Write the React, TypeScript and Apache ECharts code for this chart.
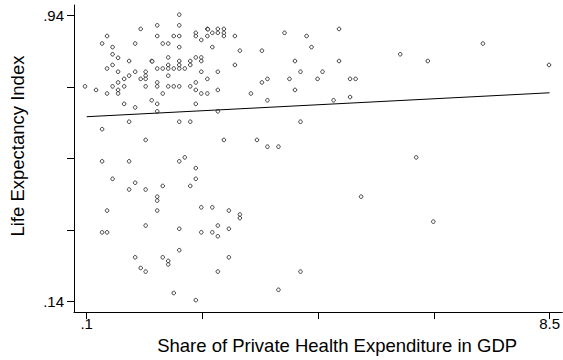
import React, { useEffect, useRef } from "react";
import * as echarts from "echarts";

// Share of private health expenditure in GDP (x) and life expectancy index (y)
const shareGDP: number[] = [
  1.78, 1.38, 1.78, 1.08, 2.29, 2.48, 2.59, 4.68, 2.08, 2.38,
  2.48, 2.59, 3.69, 0.47, 1.38, 1.68, 1.78, 2.08, 2.29, 2.59,
  2.79, 4.09, 2.18, 0.38, 0.98, 1.48, 1.58, 7.29, 0.57, 1.78,
  2.38, 4.18, 2.88, 3.28, 0.57, 5.79, 1.58, 2.08, 2.18, 0.67,
  0.87, 1.28, 1.78, 1.98, 2.18, 3.88, 4.68, 6.29, 0.57, 1.58,
  1.78, 1.98, 2.79, 8.49, 0.47, 1.38, 1.48, 1.58, 1.68, 1.78,
  1.88, 0.67, 0.98, 1.17, 2.18, 2.48, 3.98, 4.38, 0.87, 1.17,
  1.58, 0.78, 1.08, 1.17, 2.29, 3.38, 3.78, 4.29, 4.88, 4.98,
  0.67, 1.38, 2.08, 3.28, 0.07, 0.57, 0.78, 1.17, 1.38, 1.58,
  1.68, 1.78, 1.98, 0.27, 0.67, 2.08, 2.48, 3.88, 0.47, 0.67,
  1.48, 2.18, 2.29, 3.08, 4.88, 1.28, 3.38, 4.58, 0.78, 1.38,
  2.08, 0.98, 1.38, 2.48, 0.87, 1.78, 1.98, 3.98, 0.38, 1.17,
  2.59, 3.19, 3.38, 3.58, 1.88, 6.08, 0.38, 0.87, 1.78, 2.08,
  0.57, 2.08, 0.98, 1.48, 1.98, 0.87, 1.17, 1.38, 1.38, 5.08,
  2.18, 2.38, 0.47, 1.38, 2.68, 2.88, 2.88, 6.39, 1.17, 2.48,
  1.78, 2.68, 0.38, 0.47, 2.18, 2.38, 2.48, 1.78, 0.98, 1.48,
  2.68, 1.58, 1.58, 1.08, 1.17, 2.48, 3.98, 3.58, 1.68, 2.08,
  2.30, 1.29,
];

const lifeIndex: number[] = [
  0.943, 0.913, 0.913, 0.903, 0.903, 0.903, 0.903, 0.903, 0.892, 0.892,
  0.892, 0.892, 0.892, 0.883, 0.883, 0.883, 0.883, 0.883, 0.883, 0.883,
  0.883, 0.883, 0.872, 0.862, 0.862, 0.862, 0.862, 0.862, 0.852, 0.852,
  0.852, 0.852, 0.842, 0.842, 0.832, 0.832, 0.823, 0.823, 0.823, 0.822,
  0.813, 0.813, 0.813, 0.813, 0.813, 0.813, 0.813, 0.813, 0.802, 0.802,
  0.802, 0.802, 0.802, 0.802, 0.792, 0.792, 0.792, 0.792, 0.792, 0.792,
  0.792, 0.783, 0.783, 0.783, 0.783, 0.783, 0.783, 0.783, 0.772, 0.772,
  0.772, 0.763, 0.763, 0.763, 0.763, 0.763, 0.763, 0.763, 0.763, 0.763,
  0.753, 0.753, 0.753, 0.753, 0.742, 0.742, 0.742, 0.742, 0.742, 0.742,
  0.742, 0.742, 0.742, 0.732, 0.732, 0.732, 0.732, 0.732, 0.722, 0.722,
  0.722, 0.722, 0.722, 0.722, 0.712, 0.703, 0.703, 0.703, 0.693, 0.693,
  0.693, 0.683, 0.672, 0.672, 0.643, 0.643, 0.643, 0.643, 0.622, 0.592,
  0.592, 0.592, 0.573, 0.573, 0.543, 0.543, 0.532, 0.532, 0.532, 0.513,
  0.483, 0.483, 0.472, 0.463, 0.463, 0.453, 0.453, 0.433, 0.422, 0.433,
  0.403, 0.403, 0.394, 0.394, 0.394, 0.383, 0.373, 0.363, 0.352, 0.352,
  0.343, 0.343, 0.333, 0.333, 0.333, 0.333, 0.322, 0.283, 0.263, 0.263,
  0.263, 0.253, 0.243, 0.233, 0.223, 0.223, 0.223, 0.172, 0.163, 0.143,
  0.902, 0.812,
];

// Fitted line end points
const fitX: number[] = [0.1, 8.5];
const fitY: number[] = [0.657, 0.724];

// Axis ticks and labels
const xTicks: number[] = [0.1, 2.2, 4.3, 6.4, 8.5];
const xLabels: number[] = [0.1, 8.5];
const yTicks: number[] = [0.14, 0.34, 0.54, 0.74, 0.94];
const yLabels: number[] = [0.14, 0.94];

const xTitle = "Share of Private Health Expenditure in GDP";
const yTitle = "Life Expectancy Index";

const FONT = "'Liberation Sans', Arial, Helvetica, sans-serif";

const fmt = (v: number) => String(v).replace(/^0\./, ".");

export default function App() {
  const ref = useRef<HTMLDivElement>(null);

  useEffect(() => {
    if (!ref.current) return;
    const chart = echarts.init(ref.current, undefined, { renderer: "svg" });
    const points = shareGDP.map((x, i) => [x, lifeIndex[i]]);
    const fit = fitX.map((x, i) => [x, fitY[i]]);

    chart.setOption({
      animation: false,
      backgroundColor: "#ffffff",
      grid: { left: 74, right: 0, top: 5, bottom: 44 },
      xAxis: {
        type: "value",
        min: -0.13,
        max: 8.73,
        name: xTitle,
        nameLocation: "middle",
        nameGap: 21,
        nameTextStyle: {
          fontFamily: FONT,
          fontSize: 18.5,
          color: "#000",
          padding: [0, 0, 0, 38],
        },
        axisLine: { show: true, onZero: false, lineStyle: { color: "#000", width: 1 } },
        axisTick: {
          show: true,
          inside: false,
          length: 7,
          customValues: xTicks,
          lineStyle: { color: "#000", width: 1 },
        },
        axisLabel: {
          customValues: xLabels,
          formatter: (v: number) => fmt(v),
          fontFamily: FONT,
          fontSize: 15,
          color: "#000",
          margin: 4,
        },
        splitLine: { show: false },
      },
      yAxis: {
        type: "value",
        min: 0.1095,
        max: 0.97,
        name: yTitle,
        nameLocation: "middle",
        nameGap: 47,
        nameRotate: 90,
        nameTextStyle: {
          fontFamily: FONT,
          fontSize: 18.5,
          color: "#000",
          padding: [0, 0, 0, 25],
        },
        axisLine: { show: true, onZero: false, lineStyle: { color: "#000", width: 1 } },
        axisTick: {
          show: true,
          inside: false,
          length: 7,
          customValues: yTicks,
          lineStyle: { color: "#000", width: 1 },
        },
        axisLabel: {
          customValues: yLabels,
          formatter: (v: number) => fmt(v),
          fontFamily: FONT,
          fontSize: 15,
          color: "#000",
          margin: 10,
        },
        splitLine: { show: false },
      },
      series: [
        {
          type: "scatter",
          data: points,
          symbol: "circle",
          symbolSize: 3.6,
          itemStyle: { color: "#ffffff", borderColor: "#111", borderWidth: 1 },
          silent: true,
        },
        {
          type: "line",
          data: fit,
          symbol: "none",
          lineStyle: { color: "#000", width: 1 },
          silent: true,
        },
      ],
    });

    return () => chart.dispose();
  }, []);

  return (
    <div
      ref={ref}
      style={{ position: "fixed", left: 0, top: 0, width: 563, height: 360, background: "#fff" }}
    />
  );
}
